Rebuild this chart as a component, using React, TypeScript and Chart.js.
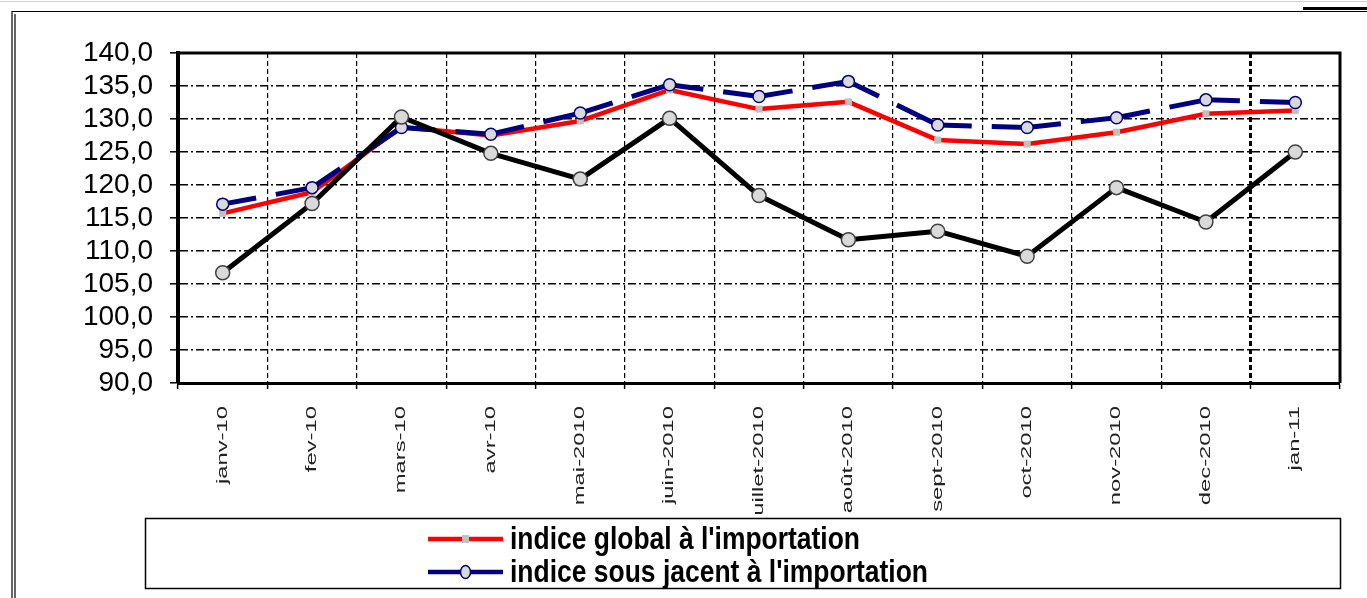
import React, { useEffect, useRef } from "react";
import { Chart, registerables } from "chart.js";

Chart.register(...registerables);

const categories = [
  "janv-10", "fev-10", "mars-10", "avr-10", "mai-2010", "juin-2010",
  "juillet-2010", "août-2010", "sept-2010", "oct-2010", "nov-2010", "dec-2010", "jan-11",
];
const indiceGlobal = [115.7, 118.9, 128.8, 127.5, 129.7, 134.4, 131.5, 132.6, 126.8, 126.2, 128.0, 130.8, 131.3];
const indiceSousJacent = [117.1, 119.6, 128.7, 127.7, 130.9, 135.2, 133.4, 135.7, 129.1, 128.7, 130.2, 132.9, 132.5];
const indiceAutre = [106.7, 117.2, 130.3, 124.8, 120.9, 130.1, 118.4, 111.7, 113.0, 109.2, 119.6, 114.4, 125.0];
const yMin = 90;
const yMax = 140;
const yStep = 5;
const legendLabels = ["indice global à l'importation", "indice sous jacent à l'importation"];

const W = 1367;
const H = 598;

const decorPlugin = {
  id: "decor",
  beforeDraw(chart: any) {
    const ctx = chart.ctx;
    ctx.save();
    ctx.fillStyle = "#fff";
    ctx.fillRect(0, 0, W, H);
    ctx.strokeStyle = "#d0d0d0";
    ctx.lineWidth = 1;
    ctx.beginPath();
    ctx.moveTo(0, 1.5);
    ctx.lineTo(W, 1.5);
    ctx.stroke();
    ctx.strokeStyle = "#000";
    ctx.lineWidth = 1.2;
    ctx.beginPath();
    ctx.moveTo(12, H);
    ctx.lineTo(12, 11.5);
    ctx.lineTo(W, 11.5);
    ctx.moveTo(15, H);
    ctx.lineTo(15, 14);
    ctx.stroke();
    ctx.lineWidth = 3;
    ctx.beginPath();
    ctx.moveTo(1303, 8.5);
    ctx.lineTo(W, 8.5);
    ctx.stroke();
    ctx.restore();
  },
  afterDatasetsDraw(chart: any) {
    const ctx = chart.ctx;
    const a = chart.chartArea;
    ctx.save();
    ctx.strokeStyle = "#000";
    ctx.lineWidth = 3;
    ctx.beginPath();
    ctx.moveTo(a.left, a.top);
    ctx.lineTo(a.right, a.top);
    ctx.lineTo(a.right, a.bottom);
    ctx.stroke();
    ctx.restore();
  },
  afterDraw(chart: any) {
    const ctx = chart.ctx;
    const xs = chart.scales.x;
    ctx.save();
    ctx.beginPath();
    ctx.rect(0, 386, W, 514 - 386);
    ctx.clip();
    ctx.fillStyle = "#222";
    ctx.font = "14px 'Liberation Sans', Arial, sans-serif";
    ctx.textAlign = "right";
    ctx.textBaseline = "middle";
    categories.forEach((lab, i) => {
      const x = xs.getPixelForValue(i);
      ctx.save();
      ctx.translate(x, 406);
      ctx.rotate(-Math.PI / 2);
      ctx.scale(1.7, 1);
      ctx.fillText(lab, 0, 0);
      ctx.restore();
    });
    ctx.restore();

    ctx.save();
    ctx.strokeStyle = "#000";
    ctx.lineWidth = 1.5;
    ctx.strokeRect(145.5, 518.5, 1195, 70);
    const rows = [
      { y: 539, color: "#ff0000", marker: "rect" },
      { y: 572, color: "#000080", marker: "circle" },
    ];
    rows.forEach((r, i) => {
      ctx.strokeStyle = r.color;
      ctx.lineWidth = 4.5;
      ctx.beginPath();
      ctx.moveTo(428, r.y);
      ctx.lineTo(503, r.y);
      ctx.stroke();
      if (r.marker === "rect") {
        ctx.fillStyle = "#c0c0c0";
        ctx.fillRect(462, r.y - 4, 7, 8);
      } else {
        ctx.fillStyle = "#d9d9d9";
        ctx.strokeStyle = "#000080";
        ctx.lineWidth = 1.5;
        ctx.beginPath();
        ctx.ellipse(465.5, r.y, 5, 6.5, 0, 0, Math.PI * 2);
        ctx.fill();
        ctx.stroke();
      }
      ctx.fillStyle = "#000";
      ctx.font = "bold 31px 'Liberation Sans Narrow', 'Arial Narrow', 'Liberation Sans', sans-serif";
      ctx.textAlign = "left";
      ctx.textBaseline = "alphabetic";
      ctx.save();
      ctx.translate(510, r.y + 10);
      const target = i === 0 ? 350 : 418;
      const w = ctx.measureText(legendLabels[i]).width;
      ctx.scale(target / w, 1);
      ctx.fillText(legendLabels[i], 0, 0);
      ctx.restore();
    });
    ctx.restore();
  },
};

export default function App() {
  const ref = useRef<HTMLCanvasElement | null>(null);
  useEffect(() => {
    if (!ref.current) return;
    const chart = new Chart(ref.current, {
      type: "line",
      data: {
        labels: categories,
        datasets: [
          {
            label: "indice",
            data: indiceAutre,
            borderColor: "#000",
            borderWidth: 5,
            borderCapStyle: "round",
            borderJoinStyle: "round",
            pointStyle: "circle",
            pointRadius: 7,
            pointBackgroundColor: "#d9d9d9",
            pointBorderColor: "#404040",
            pointBorderWidth: 1.5,
            tension: 0,
            order: 0,
          },
          {
            label: legendLabels[1],
            data: indiceSousJacent,
            borderColor: "#000080",
            borderWidth: 5,
            borderDash: [68, 20],
            borderCapStyle: "butt",
            pointStyle: "circle",
            pointRadius: 6,
            pointBackgroundColor: "#d9d9d9",
            pointBorderColor: "#000080",
            pointBorderWidth: 1.5,
            tension: 0,
            order: 1,
            segment: {
              borderDashOffset: (c: any) => 34 + c.p0DataIndex * 0.001,
            },
          },
          {
            label: legendLabels[0],
            data: indiceGlobal,
            borderColor: "#ff0000",
            borderWidth: 4.5,
            borderCapStyle: "round",
            borderJoinStyle: "round",
            pointStyle: "rect",
            pointRadius: 5,
            pointBackgroundColor: "#c0c0c0",
            pointBorderColor: "#c0c0c0",
            pointBorderWidth: 0,
            tension: 0,
            order: 2,
          },
        ],
      },
      options: {
        animation: false,
        responsive: false,
        devicePixelRatio: 1,
        layout: { padding: { left: 0, top: 53, right: 27, bottom: 0 } },
        plugins: {
          legend: { display: false },
          tooltip: { enabled: false },
        },
        scales: {
          x: {
            type: "category",
            offset: true,
            grid: {
              offset: true,
              color: "#000",
              lineWidth: (c: any) => (c.index === 12 ? 3 : 1.2),
              drawTicks: true,
              tickLength: 6,
              tickColor: "#000",
              tickWidth: 1.5,
            },
            border: { display: true, color: "#000", width: 3, dash: [5, 3] },
            ticks: { display: false },
            afterFit: (s: any) => {
              s.height = 215;
            },
          },
          y: {
            min: yMin,
            max: yMax,
            grid: {
              color: "#000",
              lineWidth: 1.6,
              drawTicks: true,
              tickLength: 8,
              tickColor: "#000",
              tickWidth: 1.5,
            },
            border: { display: true, color: "#000", width: 4, dash: [8, 3, 2, 3] },
            ticks: {
              stepSize: yStep,
              autoSkip: false,
              color: "#000",
              padding: 17,
              font: { family: "'Liberation Sans', Arial, sans-serif", size: 28 },
              callback: (v: any) => Number(v).toFixed(1).replace(".", ","),
            },
            afterFit: (s: any) => {
              s.width = 178;
            },
          },
        },
      },
      plugins: [decorPlugin],
    });
    return () => chart.destroy();
  }, []);
  return (
    <div style={{ position: "absolute", left: 0, top: 0, width: W, height: H, background: "#fff" }}>
      <canvas ref={ref} width={W} height={H} style={{ display: "block" }} />
    </div>
  );
}
